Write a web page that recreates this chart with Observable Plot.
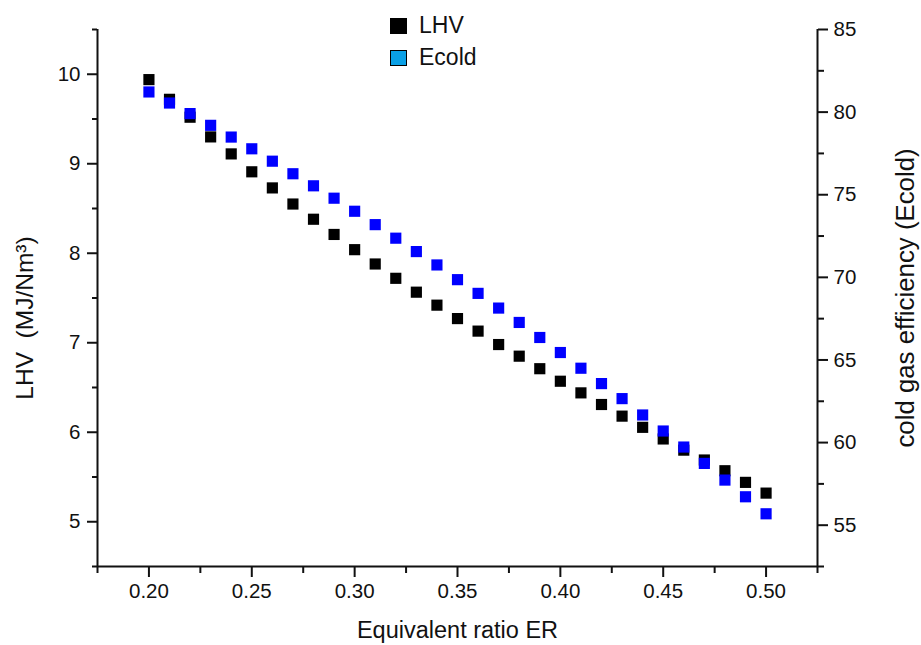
<!DOCTYPE html>
<html>
<head>
<meta charset="utf-8">
<script src="https://cdn.jsdelivr.net/npm/d3@7"></script>
<script src="https://cdn.jsdelivr.net/npm/@observablehq/plot@0.6"></script>
<style>
  html, body { margin: 0; padding: 0; background: #fff; }
  #wrap { position: relative; width: 921px; height: 645px; font-family: "Liberation Sans", Arial, sans-serif; }
  .leg { position: absolute; left: 390px; display: flex; align-items: center; font-size: 23px; color: #111; }
  .leg .sw { width: 17px; height: 16px; box-sizing: border-box; border: 1.5px solid #000; margin-right: 12px; }
</style>
</head>
<body>
<div id="wrap"></div>
<script>
// ---- data ----
const ER = [0.20, 0.21, 0.22, 0.23, 0.24, 0.25, 0.26, 0.27, 0.28, 0.29, 0.30,
            0.31, 0.32, 0.33, 0.34, 0.35, 0.36, 0.37, 0.38, 0.39, 0.40,
            0.41, 0.42, 0.43, 0.44, 0.45, 0.46, 0.47, 0.48, 0.49, 0.50];
const LHV = [9.94, 9.72, 9.52, 9.30, 9.11, 8.91, 8.73, 8.55, 8.38, 8.21, 8.04,
             7.88, 7.72, 7.565, 7.42, 7.27, 7.13, 6.98, 6.85, 6.71, 6.57,
             6.44, 6.31, 6.18, 6.055, 5.925, 5.80, 5.69, 5.57, 5.44, 5.32];
const Ecold = [81.22, 80.55, 79.91, 79.20, 78.49, 77.78, 77.03, 76.27, 75.54, 74.79, 74.00,
               73.19, 72.37, 71.56, 70.75, 69.86, 69.03, 68.14, 67.27, 66.36, 65.45,
               64.50, 63.57, 62.66, 61.67, 60.70, 59.73, 58.74, 57.73, 56.72, 55.69];

const xTicks = [0.20, 0.25, 0.30, 0.35, 0.40, 0.45, 0.50];
const xMinor = [0.175, 0.225, 0.275, 0.325, 0.375, 0.425, 0.475, 0.525];
const leftTicks = [5, 6, 7, 8, 9, 10];
const leftMinor = [4.5, 5.5, 6.5, 7.5, 8.5, 9.5, 10.5];
const rightTicks = [55, 60, 65, 70, 75, 80, 85];
const rightMinor = [52.5, 57.5, 62.5, 67.5, 72.5, 77.5, 82.5];

const xDomain = [0.175, 0.525];
const leftDomain = [4.5, 10.5];
const rightDomain = [52.5, 85];

const xLabel = "Equivalent ratio ER";
const leftLabel = "LHV\u00a0 (MJ/Nm³)";
const rightLabel = "cold gas efficiency (Ecold)";
const legendItems = [["LHV", "#000000"], ["Ecold", "#0aa0e6"]];

// ---- build ----
const toLeft = d3.scaleLinear().domain(rightDomain).range(leftDomain);
const lhvData = ER.map((x, i) => ({x, y: LHV[i]}));
const ecoldData = ER.map((x, i) => ({x, y: toLeft(Ecold[i])}));

const ink = "#111";
const tickFont = 20.5;

const chart = Plot.plot({
  width: 921,
  height: 645,
  marginLeft: 97,
  marginRight: 104,
  marginTop: 29,
  marginBottom: 79,
  style: {fontFamily: "'Liberation Sans', Arial, sans-serif", color: ink, background: "#fff"},
  x: {domain: xDomain},
  y: {domain: leftDomain},
  marks: [
    // axis lines
    Plot.ruleX([xDomain[0]], {stroke: ink, strokeWidth: 2}),
    Plot.ruleX([xDomain[1]], {stroke: ink, strokeWidth: 2}),
    Plot.ruleY([leftDomain[0]], {stroke: ink, strokeWidth: 2}),
    // bottom axis
    Plot.axisX(xTicks, {anchor: "bottom", tickSize: 11, tickPadding: 6, tickFormat: ".2f",
      fontSize: tickFont, strokeWidth: 2, label: null, color: ink}),
    Plot.axisX(xMinor, {anchor: "bottom", tickSize: 7, tickFormat: () => "", strokeWidth: 2, label: null, color: ink}),
    // left axis
    Plot.axisY(leftTicks, {anchor: "left", tickSize: 10, tickPadding: 7, tickFormat: d => String(d),
      fontSize: tickFont, strokeWidth: 2, label: null, color: ink}),
    Plot.axisY(leftMinor, {anchor: "left", tickSize: 5, tickFormat: () => "", strokeWidth: 2, label: null, color: ink}),
    // right axis (Ecold scale mapped onto the left scale)
    Plot.axisY(rightTicks.map(toLeft), {anchor: "right", tickSize: 10, tickPadding: 6,
      tickFormat: d => String(Math.round(toLeft.invert(d))),
      fontSize: tickFont, strokeWidth: 2, label: null, color: ink}),
    Plot.axisY(rightMinor.map(toLeft), {anchor: "right", tickSize: 6, tickFormat: () => "", strokeWidth: 2, label: null, color: ink}),
    // axis titles
    Plot.text([xLabel], {frameAnchor: "bottom", dy: 71, textAnchor: "middle", fontSize: 23.5, fill: ink, text: d => d}),
    Plot.text([leftLabel], {frameAnchor: "left", dx: -72, dy: 20, textAnchor: "middle", rotate: -90, fontSize: 24.5, fill: ink, text: d => d}),
    Plot.text([rightLabel], {frameAnchor: "right", dx: 88, textAnchor: "middle", rotate: -90, fontSize: 25.8, fill: ink, text: d => d}),
    // data
    Plot.dot(lhvData, {x: "x", y: "y", symbol: "square", r: 6.3, fill: "#000", stroke: null}),
    Plot.dot(ecoldData, {x: "x", y: "y", symbol: "square", r: 6.3, fill: "#0000ff", stroke: null})
  ]
});

const wrap = document.getElementById("wrap");
wrap.appendChild(chart);
legendItems.forEach(([name, color], i) => {
  const row = document.createElement("div");
  row.className = "leg";
  row.style.top = (12 + i * 32) + "px";
  const sw = document.createElement("div");
  sw.className = "sw";
  sw.style.background = color;
  const t = document.createElement("span");
  t.textContent = name;
  row.appendChild(sw);
  row.appendChild(t);
  wrap.appendChild(row);
});
</script>
</body>
</html>
